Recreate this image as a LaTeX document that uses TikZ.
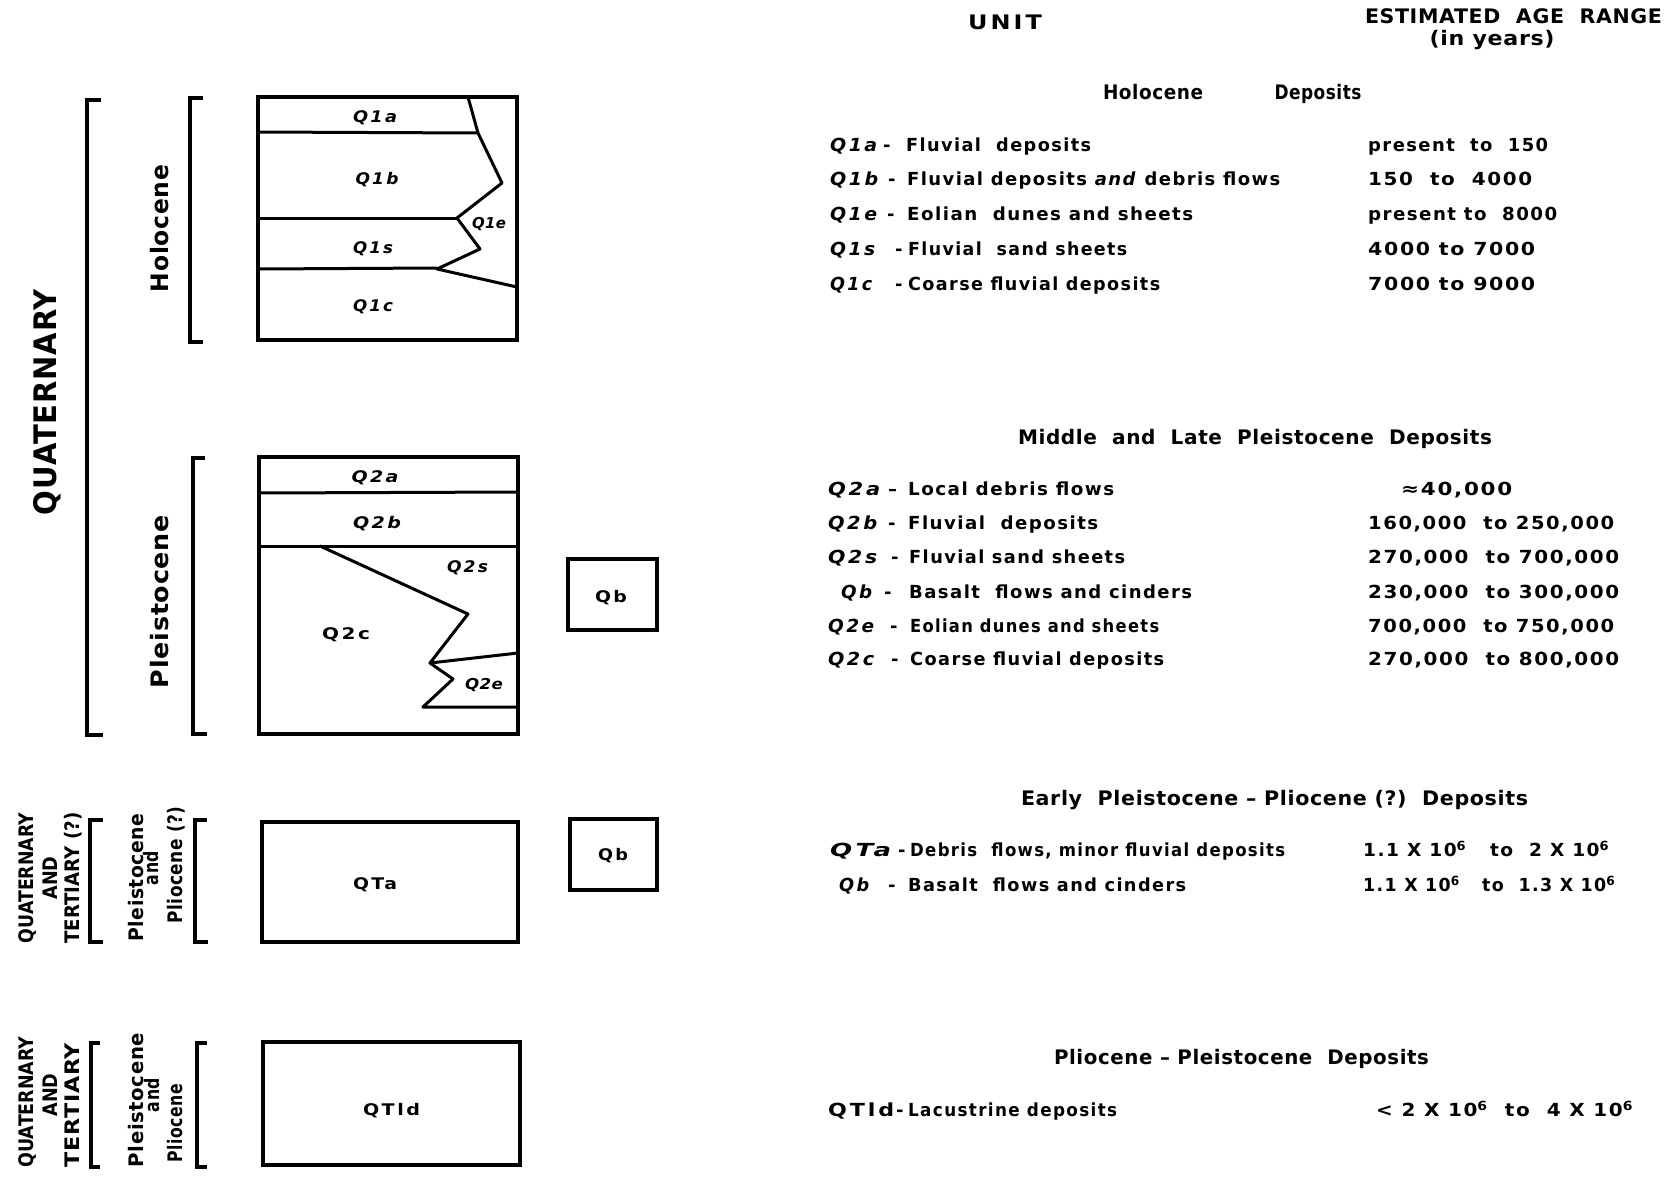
\documentclass[tikz,border=0pt]{standalone}
\usepackage{fontspec}
\usepackage{graphicx}
\setmainfont{DejaVu Sans}
\newfontfamily\df{DejaVu Sans}[LetterSpace=3]
\newfontfamily\rf{DejaVu Sans}[LetterSpace=8]
\newfontfamily\cf{DejaVu Sans}[LetterSpace=13]
\newcommand\fw[2]{\resizebox{#1pt}{\height}{#2}}
\begin{document}
\begin{tikzpicture}[x=1pt,y=-1pt,
  boxline/.style={line width=3.4pt,line join=miter},
  inline/.style={line width=3pt,line join=round,line cap=round},
  brk/.style={line width=3.6pt,line join=miter},
  txt/.style={inner sep=0pt,anchor=base west,font=\rf\bfseries\fontsize{18}{20}\selectfont},
  code/.style={inner sep=0pt,anchor=base west,font=\cf\bfseries\itshape\fontsize{18}{20}\selectfont},
  codeu/.style={code,font=\cf\bfseries\fontsize{18}{20}\selectfont},
  hdr/.style={inner sep=0pt,anchor=base,font=\df\bfseries\fontsize{20}{22}\selectfont},
  lbl/.style={inner sep=0pt,anchor=base,font=\cf\bfseries\itshape\fontsize{16}{18}\selectfont},
  lblu/.style={lbl,font=\cf\bfseries\fontsize{16}{18}\selectfont},
  rot/.style={inner sep=0pt,anchor=base,rotate=90}]
\useasboundingbox (0,0) rectangle (1665,1178);
\fill[white] (0,0) rectangle (1665,1178);

% ---------------- brackets ----------------
\draw[brk,line width=4.4pt] (101,100) -- (87,100) -- (87,735) -- (103,735);
\draw[brk] (203,98) -- (190,98) -- (190,342) -- (203,342);
\draw[brk] (205,458) -- (193,458) -- (193,734) -- (207,734);
\draw[brk] (103,820) -- (90,820) -- (90,942) -- (103,942);
\draw[brk] (207,820) -- (195,820) -- (195,942) -- (208,942);
\draw[brk] (100,1043) -- (91,1043) -- (91,1167) -- (100,1167);
\draw[brk] (207,1043) -- (197,1043) -- (197,1167) -- (207,1167);

% ---------------- rotated labels ----------------
\node[rot,font=\df\bfseries\fontsize{31}{33}\selectfont] (quat) at (56,402) {\fw{226}{QUATERNARY}};
\node[rot,font=\df\bfseries\fontsize{24}{26}\selectfont] (holo) at (168,228.5) {\fw{127}{Holocene}};
\node[rot,font=\df\bfseries\fontsize{24}{26}\selectfont] (pleis) at (168,601.5) {\fw{173}{Pleistocene}};

\node[rot,font=\bfseries\fontsize{20}{22}\selectfont] (qt1a) at (33.5,878) {\fw{130}{QUATERNARY}};
\node[rot,font=\bfseries\fontsize{20}{22}\selectfont] (qt1b) at (57,878) {\fw{43}{AND}};
\node[rot,font=\bfseries\fontsize{20}{22}\selectfont] (qt1c) at (79,878) {\fw{131}{TERTIARY (?)}};
\node[rot,font=\df\bfseries\fontsize{20}{22}\selectfont] (pp1a) at (143,877.5) {\fw{128}{Pleistocene}};
\node[rot,font=\df\bfseries\fontsize{20}{22}\selectfont] (pp1b) at (158,868) {\fw{34}{and}};
\node[rot,font=\df\bfseries\fontsize{20}{22}\selectfont] (pp1c) at (182,865) {\fw{117}{Pliocene (?)}};

\node[rot,font=\bfseries\fontsize{20}{22}\selectfont] (qt2a) at (33.5,1102) {\fw{131}{QUATERNARY}};
\node[rot,font=\bfseries\fontsize{20}{22}\selectfont] (qt2b) at (57,1095) {\fw{43}{AND}};
\node[rot,font=\df\bfseries\fontsize{20}{22}\selectfont] (qt2c) at (79,1105) {\fw{124}{TERTIARY}};
\node[rot,font=\df\bfseries\fontsize{20}{22}\selectfont] (pp2a) at (143,1100) {\fw{134}{Pleistocene}};
\node[rot,font=\df\bfseries\fontsize{20}{22}\selectfont] (pp2b) at (159,1095) {\fw{34}{and}};
\node[rot,font=\df\bfseries\fontsize{20}{22}\selectfont] (pp2c) at (182,1123) {\fw{78}{Pliocene}};

% ---------------- Holocene column ----------------
\draw[boxline] (258,97) rectangle (517,340);
\draw[inline] (258,132) -- (478,133);
\draw[inline] (468,97) -- (478,133) -- (502,183) -- (457,218) -- (480,249) -- (437,269) -- (517,287);
\draw[inline] (258,218) -- (457,218);
\draw[inline] (258,269) -- (437,268);
\node[lbl] (bq1a) at (375,122) {\fw{44}{Q1a}};
\node[lbl] (bq1b) at (377,184) {\fw{43}{Q1b}};
\node[lbl,font=\df\bfseries\itshape\fontsize{15}{17}\selectfont] (bq1e) at (489,228) {\fw{34}{Q1e}};
\node[lbl] (bq1s) at (373,253) {\fw{40}{Q1s}};
\node[lbl] (bq1c) at (373,311) {\fw{40}{Q1c}};

% ---------------- Pleistocene column ----------------
\draw[boxline] (259,457) rectangle (518,734);
\draw[inline] (259,493) -- (518,492);
\draw[inline] (259,546) -- (518,546);
\draw[inline] (320,546) -- (468,614) -- (430,663) -- (453,679) -- (423,707) -- (518,707);
\draw[inline] (430,663) -- (518,653);
\node[lbl] (bq2a) at (375,482) {\fw{47}{Q2a}};
\node[lbl] (bq2b) at (377,528) {\fw{48}{Q2b}};
\node[lbl] (bq2s) at (467.5,572.5) {\fw{41}{Q2s}};
\node[lblu] (bq2c) at (346,639.5) {\fw{48}{Q2c}};
\node[lbl,font=\df\bfseries\itshape\fontsize{15}{17}\selectfont] (bq2e) at (484,689) {\fw{38}{Q2e}};

\draw[boxline] (568,559) rectangle (657,630);
\node[lblu] (bqb1) at (611,602.5) {\fw{32}{Qb}};

% ---------------- lower boxes ----------------
\draw[boxline] (262,822) rectangle (518,942);
\node[lblu] (bqta) at (375,889) {\fw{44}{QTa}};
\draw[boxline] (570,819) rectangle (657,890);
\node[lblu] (bqb2) at (613,860) {\fw{30}{Qb}};
\draw[boxline] (263,1042) rectangle (520,1165);
\node[lblu] (bqtld) at (391.5,1115.5) {\fw{57}{QTld}};

% ---------------- headings ----------------
\node[hdr,font=\cf\bfseries\fontsize{20}{22}\selectfont] (unit) at (1005,29) {\fw{74}{UNIT}};
\node[hdr] (est) at (1513.5,23) {\fw{297}{ESTIMATED~~AGE~~RANGE}};
\node[hdr] (yrs) at (1492,45) {\fw{125}{(in years)}};

\node[hdr] (hh1) at (1153,99) {\fw{100}{Holocene}};
\node[hdr] (hh2) at (1318,99) {\fw{87}{Deposits}};
\node[hdr] (hm) at (1255,444) {\fw{474}{Middle~~and~~Late~~Pleistocene~~Deposits}};
\node[hdr] (he) at (1274.5,805) {\fw{507}{Early~~Pleistocene – Pliocene (?)~~Deposits}};
\node[hdr] (hp) at (1241.5,1064) {\fw{375}{Pliocene – Pleistocene~~Deposits}};

% ---------------- Holocene rows ----------------
\node[code] (c1a) at (830,151) {\fw{47}{Q1a}};
\node[txt] (d1a) at (883,151) {-};
\node[txt] (t1a) at (906,151) {\fw{185}{Fluvial~ deposits}};
\node[txt] (a1a) at (1368,151) {\fw{180}{present~ to~ 150}};

\node[code] (c1b) at (830,185) {\fw{48}{Q1b}};
\node[txt] (d1b) at (888,185) {-};
\node[txt] (t1b) at (907,185) {\fw{373}{Fluvial deposits \textit{and} debris flows}};
\node[txt] (a1b) at (1368,185) {\fw{164}{150~ to~ 4000}};

\node[code] (c1e) at (830,220) {\fw{47}{Q1e}};
\node[txt] (d1e) at (887,220) {-};
\node[txt] (t1e) at (907,220) {\fw{286}{Eolian~ dunes and sheets}};
\node[txt] (a1e) at (1368,220) {\fw{189}{present to~ 8000}};

\node[code] (c1s) at (830,255) {\fw{45}{Q1s}};
\node[txt] (d1s) at (895,255) {-};
\node[txt] (t1s) at (908,255) {\fw{219}{Fluvial~ sand sheets}};
\node[txt] (a1s) at (1368,255) {\fw{167}{4000 to 7000}};

\node[code] (c1c) at (830,290) {\fw{42}{Q1c}};
\node[txt] (d1c) at (895,290) {-};
\node[txt] (t1c) at (908,290) {\fw{252}{Coarse fluvial deposits}};
\node[txt] (a1c) at (1368,290) {\fw{167}{7000 to 9000}};

% ---------------- Middle / Late Pleistocene rows ----------------
\node[code] (c2a) at (828,495.5) {\fw{52}{Q2a}};
\node[txt] (d2a) at (888,495.5) {–};
\node[txt] (t2a) at (908,495.5) {\fw{206}{Local debris flows}};
\node[txt] (a2a) at (1401,495.5) {\fw{111}{≈40,000}};

\node[code] (c2b) at (828,529.5) {\fw{49}{Q2b}};
\node[txt] (d2b) at (888,529.5) {-};
\node[txt] (t2b) at (908,529.5) {\fw{190}{Fluvial~ deposits}};
\node[txt] (a2b) at (1368,529.5) {\fw{246}{160,000~ to 250,000}};

\node[code] (c2s) at (828,563.5) {\fw{49}{Q2s}};
\node[txt] (d2s) at (891,563.5) {-};
\node[txt] (t2s) at (909,563.5) {\fw{216}{Fluvial sand sheets}};
\node[txt] (a2s) at (1368,563.5) {\fw{251}{270,000~ to 700,000}};

\node[code] (cqb) at (841,598.5) {\fw{31}{Qb}};
\node[txt] (dqb) at (884,598.5) {-};
\node[txt] (tqb) at (909,598.5) {\fw{283}{Basalt~ flows and cinders}};
\node[txt] (aqb) at (1368,598.5) {\fw{251}{230,000~ to 300,000}};

\node[code] (c2e) at (828,632.5) {\fw{46}{Q2e}};
\node[txt] (d2e) at (890,632.5) {-};
\node[txt] (t2e) at (910,632.5) {\fw{249}{Eolian dunes and sheets}};
\node[txt] (a2e) at (1368,632.5) {\fw{246}{700,000~ to 750,000}};

\node[code] (c2c) at (828,665.5) {\fw{46}{Q2c}};
\node[txt] (d2c) at (891,665.5) {-};
\node[txt] (t2c) at (910,665.5) {\fw{254}{Coarse fluvial deposits}};
\node[txt] (a2c) at (1368,665.5) {\fw{251}{270,000~ to 800,000}};

% ---------------- Early Pleistocene rows ----------------
\node[code] (cqta) at (830,856.5) {\fw{61}{QTa}};
\node[txt] (dqta) at (898,856.5) {-};
\node[txt] (tqta) at (910,856.5) {\fw{375}{Debris~ flows, minor fluvial deposits}};
\node[txt] (aqta) at (1363,856.5) {\fw{246}{1.1 X 10\textsuperscript{6}~~ to~ 2 X 10\textsuperscript{6}}};

\node[code] (cqb2) at (839,891.5) {\fw{30}{Qb}};
\node[txt] (dqb2) at (888,891.5) {-};
\node[txt] (tqb2) at (908,891.5) {\fw{278}{Basalt~ flows and cinders}};
\node[txt] (aqb2) at (1363,891.5) {\fw{252}{1.1 X 10\textsuperscript{6}~~ to~ 1.3 X 10\textsuperscript{6}}};

% ---------------- Pliocene rows ----------------
\node[codeu] (cqtld) at (828,1116.5) {\fw{66}{QTld}};
\node[txt] (dqtld) at (896,1116.5) {-};
\node[txt] (tqtld) at (908,1116.5) {\fw{209}{Lacustrine deposits}};
\node[txt] (aqtld) at (1376,1116.5) {\fw{257}{< 2 X 10\textsuperscript{6}~ to~ 4 X 10\textsuperscript{6}}};
\end{tikzpicture}
\end{document}
